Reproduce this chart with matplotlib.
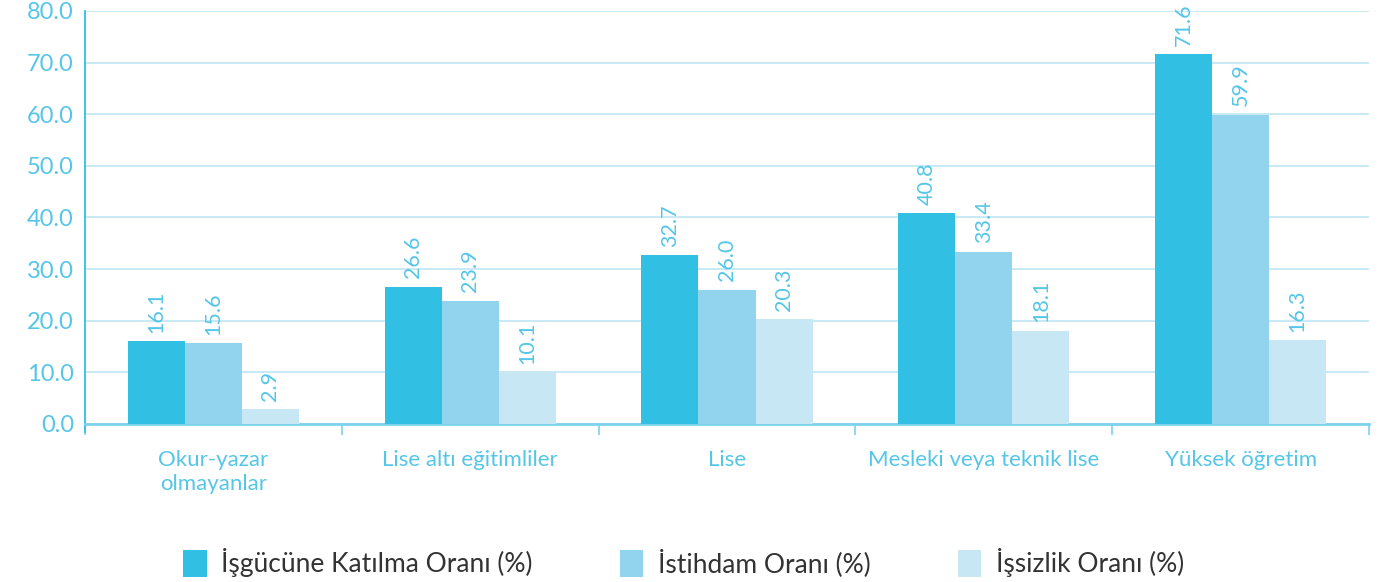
"""plot.py: labour indicators by education level (grouped bars)"""
import matplotlib.pyplot as plt
import numpy as np

FIG_SIZE = (13.85, 5.82)
DPI = 100
TICK_SIZE = 17
LABEL_SIZE = 15.5
CAT_SIZE = 16
LEGEND_SIZE = 19

categories = ["Okur-yazar\nolmayanlar", "Lise altı eğitimliler", "Lise",
              "Mesleki veya teknik lise", "Yüksek öğretim"]
series_names = ["İşgücüne Katılma Oranı (%)", "İstihdam Oranı (%)", "İşsizlik Oranı (%)"]
participation = [16.1, 26.6, 32.7, 40.8, 71.6]
employment = [15.6, 23.9, 26.0, 33.4, 59.9]
unemployment = [2.9, 10.1, 20.3, 18.1, 16.3]

colors = ["#31bfe3", "#92d4ed", "#c7e7f4"]
text_blue = "#55c6e8"
grid_blue = "#bfe6f4"

plt.rcParams['font.family'] = ['Lato', 'DejaVu Sans']

fig = plt.figure(figsize=FIG_SIZE, dpi=DPI)
ax = fig.add_axes([85 / 1385, 1 - 424 / 582, (1369 - 85) / 1385, (424 - 11) / 582])

x = np.arange(len(categories))
width = 0.222
values = [participation, employment, unemployment]
for i, (vals, name, c) in enumerate(zip(values, series_names, colors)):
    pos = x + (i - 1) * width
    bars = ax.bar(pos, vals, width, color=c, label=name, zorder=3)
    for b, v in zip(bars, vals):
        ax.annotate("{:.1f}".format(v), (b.get_x() + b.get_width() / 2, v),
                    xytext=(0, 6), textcoords="offset points", rotation=90,
                    ha="center", va="bottom", color=text_blue, fontsize=LABEL_SIZE)

ax.set_xlim(-0.5, len(categories) - 0.5)
ax.set_ylim(0, 80)
ax.set_yticks(np.arange(0, 81, 10))
ax.set_yticklabels(["{:.1f}".format(t) for t in np.arange(0, 81, 10)])
ax.yaxis.grid(True, color=grid_blue, linewidth=1.2, zorder=0)
ax.tick_params(axis="y", length=0, labelsize=TICK_SIZE, labelcolor=text_blue, pad=8)

# boundary ticks between categories
ax.set_xticks(np.arange(-0.5, len(categories), 1.0))
ax.set_xticklabels([])
ax.set_xticks(x, minor=True)
ax.set_xticklabels(categories, minor=True)
ax.tick_params(axis="x", which="major", length=8, color="#7fd2ec", width=1.2)
ax.tick_params(axis="x", which="minor", length=0, labelsize=CAT_SIZE,
               labelcolor=text_blue, pad=19)

for s in ["top", "right"]:
    ax.spines[s].set_visible(False)
ax.spines["left"].set_color("#31bfe3")
ax.spines["left"].set_linewidth(1.3)
ax.spines["left"].set_bounds(-1.5, 80)
ax.spines["bottom"].set_color("#7fd2ec")
ax.spines["bottom"].set_linewidth(2)

fig.legend(loc="lower left", bbox_to_anchor=(159 / 1385, -0.033), ncol=3, frameon=False,
           fontsize=LEGEND_SIZE, handlelength=0.9, handleheight=1.2,
           columnspacing=3.3, handletextpad=0.55, labelcolor="#333333")

plt.savefig("out.png", dpi=DPI)
